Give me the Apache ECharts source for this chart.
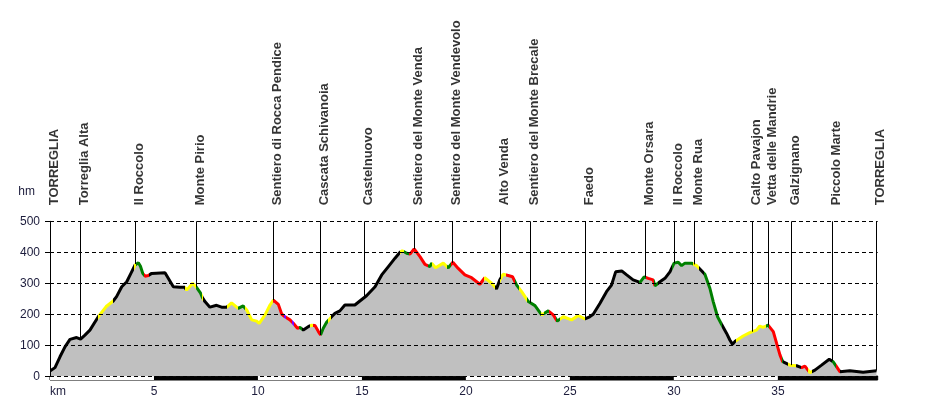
<!DOCTYPE html>
<html>
<head>
<meta charset="utf-8">
<script src="https://cdn.jsdelivr.net/npm/echarts@6/dist/echarts.min.js"></script>
<style>
  html, body { margin: 0; padding: 0; background: #fff; }
  #chart { width: 927px; height: 410px; }
</style>
</head>
<body>
<div id="chart"></div>
<script>
// profile: distance (km) and elevation (m)
const distKm = [0, 0.24, 0.48, 0.72, 0.96, 1.28, 1.47, 1.68, 1.92, 2.32, 2.7, 3.04, 3.2, 3.45, 3.69, 3.89, 4.09, 4.25, 4.35, 4.46,
  4.57, 4.73, 4.89, 4.97, 5.53, 5.93, 6.25, 6.48, 6.57, 6.86, 7.02, 7.24, 7.32, 7.45, 7.69, 8.01, 8.25, 8.5, 8.73, 9.05,
  9.29, 9.46, 9.7, 9.94, 10.06, 10.34, 10.58, 10.74, 10.98, 11.14, 11.3, 11.54, 11.7, 11.9, 12.02, 12.18, 12.47, 12.58, 12.74, 12.9,
  13.01, 13.14, 13.3, 13.41, 13.54, 13.7, 13.94, 14.18, 14.66, 14.9, 15.22, 15.63, 15.95, 16.27, 16.59, 16.83, 16.94, 17.15, 17.31, 17.51,
  17.79, 18.03, 18.27, 18.35, 18.54, 18.91, 19.15, 19.37, 19.63, 19.95, 20.27, 20.67, 20.91, 21.24, 21.47, 21.63, 21.79, 22.03, 22.24, 22.44,
  22.68, 23.0, 23.32, 23.64, 23.96, 24.2, 24.39, 24.68, 25.08, 25.4, 25.72, 25.95, 26.12, 26.44, 26.76, 27.0, 27.2, 27.49, 27.73, 28.04,
  28.37, 28.57, 28.77, 29.0, 29.09, 29.33, 29.57, 29.81, 30.01, 30.21, 30.37, 30.53, 30.85, 31.09, 31.25, 31.49, 31.73, 31.89, 32.1, 32.29,
  32.53, 32.69, 32.82, 32.93, 33.04, 33.33, 33.65, 33.97, 34.13, 34.29, 34.53, 34.78, 34.94, 35.1, 35.23, 35.58, 35.9, 36.14, 36.3, 36.54,
  36.78, 37.1, 37.47, 37.66, 37.82, 37.98, 38.46, 39.1, 39.74];
const elevM = [17, 28, 63, 95, 119, 125, 120, 133, 149, 192, 225, 243, 257, 289, 305, 332, 359, 366, 355, 332,
  323, 325, 332, 334, 334, 289, 287, 287, 278, 300, 289, 268, 255, 241, 223, 229, 223, 223, 237, 219,
  227, 214, 182, 178, 171, 198, 230, 246, 232, 201, 192, 182, 171, 155, 158, 149, 162, 165, 164, 145,
  133, 155, 174, 182, 192, 203, 211, 230, 230, 243, 260, 289, 327, 354, 381, 400, 405, 397, 394, 411,
  386, 361, 354, 365, 350, 365, 350, 368, 348, 327, 318, 297, 318, 300, 282, 311, 329, 325, 321, 294,
  273, 241, 228, 198, 211, 198, 178, 192, 182, 196, 185, 192, 200, 235, 273, 294, 337, 340, 327, 311,
  303, 321, 316, 311, 292, 305, 316, 337, 365, 368, 357, 365, 365, 357, 346, 329, 284, 241, 192, 168,
  139, 117, 103, 112, 117, 130, 141, 149, 162, 158, 165, 144, 106, 69, 47, 36, 34, 28, 33, 12,
  20, 36, 55, 47, 31, 15, 18, 13, 18];

// slope colour changes along the track (km where a colour starts)
const breakKm = [0, 2.32, 3.04, 4.05, 4.12, 4.5, 4.75, 6.5, 7.0, 7.3, 7.38, 8.5, 9.05, 9.4, 10.74, 11.25, 11.35, 11.65, 11.75, 11.95,
  12.1, 12.5, 12.65, 13.05, 13.35, 13.5, 16.85, 17.0, 17.25, 18.2, 18.35, 19.1, 19.3, 20.85, 21.4, 21.65, 21.95, 22.35, 22.55, 22.95,
  23.6, 23.75, 24.0, 24.35, 24.5, 25.72, 28.3, 28.65, 29.05, 29.25, 29.9, 30.9, 31.2, 31.45, 32.3, 33.0, 34.45, 34.55, 35.2, 35.25,
  35.5, 35.85, 36.1, 36.45, 36.65, 37.6, 37.8, 37.98];
const breakColor = ['k', 'y', 'k', 'y', 'g', 'r', 'k', 'y', 'g', 'y', 'k', 'y', 'g', 'y', 'r', 'p', 'r', 'p', 'r', 'g',
  'k', 'y', 'r', 'g', 'y', 'k', 'y', 'g', 'r', 'g', 'y', 'g', 'r', 'y', 'k', 'y', 'r', 'g', 'y', 'g',
  'y', 'g', 'r', 'g', 'y', 'k', 'g', 'r', 'g', 'k', 'g', 'y', 'k', 'g', 'k', 'y', 'g', 'r', 'g', 'k',
  'y', 'k', 'r', 'y', 'k', 'g', 'r', 'k'];

// waypoints
const wpNames = ['TORREGLIA', 'Torreglia Alta', 'Il Roccolo', 'Monte Pirio', 'Sentiero di Rocca Pendice', 'Cascata Schivanoia',
  'Castelnuovo', 'Sentiero del Monte Venda', 'Sentiero del Monte Vendevolo', 'Alto Venda', 'Sentiero del Monte Brecale', 'Faedo',
  'Monte Orsara', 'Il Roccolo', 'Monte Rua', 'Calto Pavajon', 'Vetta delle Mandrie', 'Galzignano', 'Piccolo Marte', 'TORREGLIA'];
const wpKm = [0, 1.46, 4.12, 7.03, 10.75, 13.01, 15.11, 17.51, 19.34, 21.65, 23.09, 25.74, 28.62, 30.01, 30.98, 33.76, 34.53, 35.64, 37.61, 39.74];
const wpElev = [17, 120, 362, 289, 246, 133, 254, 411, 366, 313, 237, 185, 320, 365, 361, 144, 165, 36, 50, 18];

const palette = { k: '#000000', y: '#ffff00', g: '#008000', r: '#ff0000', p: '#8000ff' };
const kmMax = 39.8;
const font = 'Liberation Sans, Arial, sans-serif';

const profile = distKm.map((d, i) => [d, elevM[i]]);
const pieces = breakKm.map((k, i) => ({
  gte: k,
  lt: i < breakKm.length - 1 ? breakKm[i + 1] : 100,
  color: palette[breakColor[i]]
}));

const chart = echarts.init(document.getElementById('chart'));
chart.setOption({
  animation: false,
  grid: [
    { left: 50, right: 49.3, top: 221.3, height: 155 },
    { left: 50, right: 49.3, top: 376, height: 4, show: true, borderColor: '#000', borderWidth: 1 }
  ],
  xAxis: [
    { type: 'value', min: 0, max: kmMax, axisLine: { show: false }, axisTick: { show: false },
      axisLabel: { show: false }, splitLine: { show: false } },
    { type: 'value', gridIndex: 1, min: 0, max: kmMax, interval: 5,
      axisLine: { show: false }, axisTick: { show: false }, splitLine: { show: false },
      splitArea: { show: true, areaStyle: { color: ['#ffffff', '#000000'] } },
      axisLabel: { margin: 6, color: '#1c1c3c', fontFamily: font, fontSize: 12, showMaxLabel: false,
        alignMinLabel: 'left', formatter: v => v === 0 ? 'km' : v } }
  ],
  yAxis: [
    { type: 'value', min: 0, max: 500, interval: 100, z: 5,
      name: 'hm', nameGap: 24, nameTextStyle: { color: '#1c1c3c', fontFamily: font, fontSize: 12, align: 'right', padding: [0, 15, 0, 0] },
      axisLine: { show: true, lineStyle: { color: '#000', width: 1 } },
      axisTick: { show: true, length: 5, lineStyle: { color: '#000' } },
      axisLabel: { margin: 10, color: '#1c1c3c', fontFamily: font, fontSize: 12 },
      splitLine: { lineStyle: { color: '#000', type: [4, 3], width: 1 } } },
    { type: 'value', gridIndex: 1, min: 0, max: 1, show: false }
  ],
  visualMap: {
    type: 'piecewise', show: false, dimension: 0, seriesIndex: 1, pieces: pieces
  },
  series: [
    { type: 'line', data: profile, symbol: 'none', z: 2,
      lineStyle: { width: 0 }, areaStyle: { color: '#c0c0c0', opacity: 1 } },
    { type: 'line', data: profile, symbol: 'none', z: 4,
      lineStyle: { width: 3 } },
    { type: 'scatter', data: wpKm.map(k => [k, 500]), symbolSize: 0, z: 6,
      label: {
        show: true, position: 'top', distance: 16, rotate: 90, align: 'left', verticalAlign: 'middle',
        offset: [0, 4], color: '#000', fontFamily: font, fontWeight: 'bold', fontSize: 13,
        formatter: p => wpNames[p.dataIndex]
      },
      markLine: {
        silent: true, symbol: 'none', label: { show: false },
        lineStyle: { color: '#000', width: 1, type: 'solid' },
        data: wpKm.map((k, i) => [{ coord: [k, 500] }, { coord: [k, wpElev[i]] }])
      } }
  ]
});
</script>
</body>
</html>
